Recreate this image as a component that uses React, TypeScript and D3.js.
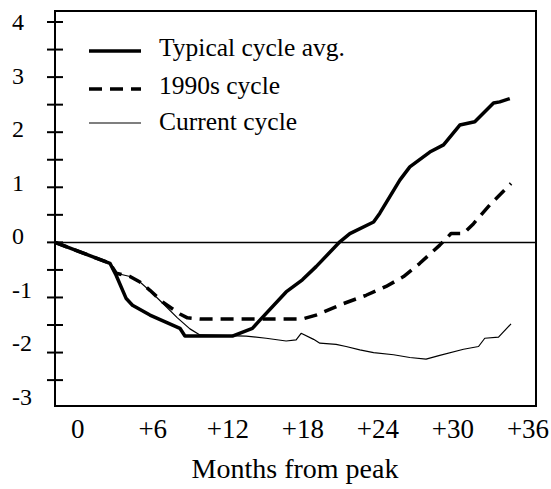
import React from "react";
import * as d3 from "d3";

// months from peak (x) and index values (y)
const typicalMonths = [0, 4.4, 4.9, 5.7, 6.2, 7.6, 10, 10.4, 14.2, 15.8, 16.4, 18.5, 19.8, 20.9, 22.8, 23.6, 25.5, 26, 27.6, 28.4, 30, 31.1, 32.4, 33.6, 35.1, 35.6, 36.4];
const typicalValues = [0, -0.38, -0.6, -1.02, -1.14, -1.32, -1.56, -1.7, -1.7, -1.56, -1.41, -0.9, -0.68, -0.44, 0.01, 0.16, 0.37, 0.53, 1.13, 1.37, 1.64, 1.77, 2.13, 2.19, 2.53, 2.55, 2.61];

const ninetiesMonths = [0, 4.4, 4.9, 6, 6.8, 7.6, 8.6, 10, 10.6, 11.6, 19.8, 20.9, 23.1, 24.9, 26.5, 27.9, 29.2, 30.8, 31.7, 32.7, 33.5, 34.8, 36.5];
const ninetiesValues = [0, -0.38, -0.56, -0.62, -0.72, -0.87, -1.08, -1.3, -1.37, -1.39, -1.39, -1.32, -1.11, -0.96, -0.8, -0.62, -0.38, -0.05, 0.16, 0.16, 0.34, 0.68, 1.07];

const currentMonths = [0, 4.4, 4.9, 6, 6.8, 7.6, 8.6, 9.8, 10.8, 11.6, 15.3, 16.9, 18.5, 19.3, 19.7, 20.7, 21.2, 22.5, 23.3, 24.4, 25.5, 27.1, 28.4, 29.7, 30.8, 32.7, 33.9, 34.4, 35.5, 36.5];
const currentValues = [0, -0.38, -0.56, -0.62, -0.72, -0.88, -1.1, -1.37, -1.57, -1.68, -1.7, -1.74, -1.79, -1.77, -1.65, -1.76, -1.83, -1.85, -1.89, -1.95, -2.0, -2.04, -2.09, -2.12, -2.05, -1.94, -1.89, -1.74, -1.72, -1.48];

const xTickLabels = ["0", "+6", "+12", "+18", "+24", "+30", "+36"];
const xTickMonths = [0, 6, 12, 18, 24, 30, 36];
const yTickLabels = ["4", "3", "2", "1", "0", "-1", "-2", "-3"];
const yTickValues = [4, 3, 2, 1, 0, -1, -2, -3];
const yMinorTicks = [4, 3.5, 3, 2.5, 2, 1.5, 1, 0.5, 0, -0.5, -1, -1.5, -2, -2.5];

const legendNames = ["Typical cycle avg.", "1990s cycle", "Current cycle"];

const W = 551;
const H = 489;
const left = 55, right = 536, top = 11, bottom = 406;
const font = "'Liberation Serif', 'Times New Roman', serif";

export default function App() {
  const x = d3.scaleLinear().domain([0, 38.5]).range([left, right]);
  const y = d3.scaleLinear().domain([-2.97, 4.2]).range([bottom, top]);
  // the labels in the original sit a bit off the ticks
  const xLab = d3.scaleLinear().domain([0, 36]).range([77.7, 528]);
  const yLab = d3.scaleLinear().domain([-3, 4]).range([405, 30]);

  const line = d3.line<[number, number]>().x(d => x(d[0])).y(d => y(d[1]));
  const series = [
    { pts: d3.zip(typicalMonths, typicalValues) as [number, number][], w: 3.5, dash: undefined },
    { pts: d3.zip(ninetiesMonths, ninetiesValues) as [number, number][], w: 3.5, dash: "13 8" },
    { pts: d3.zip(currentMonths, currentValues) as [number, number][], w: 1.2, dash: undefined },
  ];
  const legendY = [51, 89, 123];
  const legendBase = [56, 94, 130];

  return (
    <svg width={W} height={H} style={{ position: "absolute", left: 0, top: 0, background: "#fff" }}>
      <rect x={left} y={top} width={right - left} height={bottom - top} fill="none" stroke="#000" strokeWidth={2} />
      <line x1={left} x2={right} y1={y(0)} y2={y(0)} stroke="#000" strokeWidth={1.5} />
      {yMinorTicks.map(v => (
        <line key={v} x1={left - 8} x2={left + 8} y1={y(v)} y2={y(v)} stroke="#000" strokeWidth={2} />
      ))}
      {yTickValues.map((v, i) => (
        <text key={v} x={12} y={yLab(v)} fontFamily={font} fontSize={24}>{yTickLabels[i]}</text>
      ))}
      {xTickMonths.map((m, i) => (
        <text key={m} x={xLab(m)} y={437.5} textAnchor="middle" fontFamily={font} fontSize={27}>{xTickLabels[i]}</text>
      ))}
      <text x={295} y={478} textAnchor="middle" fontFamily={font} fontSize={28}>Months from peak</text>
      {series.map((s, i) => (
        <path key={i} d={line(s.pts) || ""} fill="none" stroke="#000" strokeWidth={s.w} strokeDasharray={s.dash} strokeLinejoin="round" />
      ))}
      {legendNames.map((n, i) => (
        <g key={n}>
          <line x1={89} x2={141} y1={legendY[i]} y2={legendY[i]} stroke="#000" strokeWidth={series[i].w} strokeDasharray={series[i].dash} />
          <text x={159} y={legendBase[i]} fontFamily={font} fontSize={25.5}>{n}</text>
        </g>
      ))}
    </svg>
  );
}
